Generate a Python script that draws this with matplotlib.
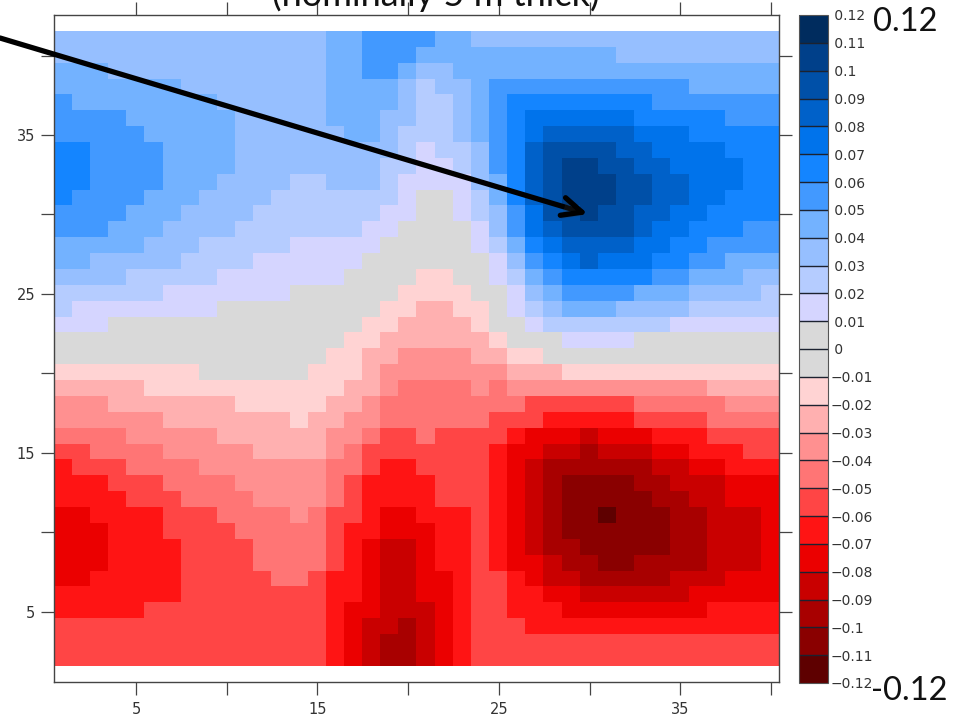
import numpy as np
import matplotlib
matplotlib.use("Agg")
import matplotlib.pyplot as plt
import matplotlib.patheffects as pe
from matplotlib.colors import ListedColormap, BoundaryNorm

W, H = 961, 717

# Colour band per level, from most negative band up to most positive band
band_colors = ["#5E0000", "#8A0000", "#A80000", "#C90000", "#EB0000", "#FF1414",
               "#FF4545", "#FF7575", "#FF9090", "#FFB0B0", "#FFD3D3", "#D9D9D9",
               "#D9D9D9", "#D5D5FF", "#B5CCFF", "#96BFFF", "#73B2FF", "#4299FF",
               "#1485FF", "#0073EB", "#0061C9", "#0050A8", "#00408A", "#002C5E"]
levels = np.round(np.arange(-12, 13) * 0.01, 2)
level_labels = ["-0.12", "-0.11", "-0.1", "-0.09", "-0.08", "-0.07", "-0.06", "-0.05", "-0.04",
                "-0.03", "-0.02", "-0.01", "0", "0.01", "0.02", "0.03", "0.04", "0.05", "0.06",
                "0.07", "0.08", "0.09", "0.1", "0.11", "0.12"]
x_ticks = [5, 10, 15, 20, 25, 30, 35, 40]
y_ticks = [5, 10, 15, 20, 25, 30, 35, 40]
tick_labels = {5: "5", 15: "15", 25: "25", 35: "35"}

# Band number per cell, top row first, as (band, repeat) runs.
# Band n>0 covers 0.01n..0.01(n+1), n<0 the mirror, 0 is the grey band.
rows = [
 [(3,15),(4,2),(5,4),(4,2),(3,17)],
 [(3,15),(4,2),(5,3),(4,11),(3,9)],
 [(4,3),(3,12),(4,2),(5,2),(4,1),(3,2),(4,18)],
 [(4,7),(3,8),(4,4),(3,1),(2,1),(3,2),(4,1),(5,11),(4,5)],
 [(5,1),(4,8),(3,6),(4,4),(3,1),(2,2),(3,1),(4,1),(5,1),(6,8),(5,7)],
 [(5,4),(4,6),(3,5),(4,3),(3,2),(2,2),(3,1),(4,1),(5,1),(6,1),(7,6),(6,5),(5,3)],
 [(5,5),(4,5),(3,6),(4,2),(3,1),(2,3),(3,1),(4,1),(5,1),(6,1),(7,1),(8,5),(7,3),(6,5)],
 [(6,2),(5,4),(4,4),(3,9),(2,1),(1,1),(2,2),(3,1),(5,1),(6,1),(8,1),(9,4),(8,2),(7,4),(6,3)],
 [(6,2),(5,4),(4,4),(3,8),(2,2),(1,2),(2,1),(3,1),(5,1),(6,1),(8,1),(9,1),(10,2),(9,2),(8,2),(7,4),(6,2)],
 [(6,2),(5,4),(4,3),(3,4),(2,2),(3,3),(2,1),(1,4),(3,1),(4,1),(6,1),(8,1),(9,1),(10,3),(9,2),(8,2),(7,3),(6,2)],
 [(6,1),(5,4),(4,3),(3,4),(2,7),(1,1),(0,2),(1,1),(2,1),(4,1),(6,1),(8,1),(9,1),(10,3),(9,2),(8,2),(7,2),(6,3)],
 [(5,4),(4,3),(3,4),(2,7),(1,2),(0,2),(1,1),(2,1),(3,1),(5,1),(7,1),(9,2),(10,1),(9,2),(8,2),(7,2),(6,4)],
 [(5,3),(4,3),(3,4),(2,7),(1,2),(0,4),(1,1),(3,1),(5,1),(7,1),(8,1),(9,4),(8,1),(7,2),(6,3),(5,2)],
 [(4,5),(3,3),(2,5),(1,5),(0,5),(1,1),(2,1),(4,1),(6,1),(7,1),(8,4),(7,2),(6,2),(5,4)],
 [(4,2),(3,5),(2,4),(1,6),(0,7),(1,1),(3,1),(5,1),(6,1),(7,1),(8,1),(7,3),(6,2),(5,2),(4,3)],
 [(3,4),(2,5),(1,7),(0,4),(-1,2),(0,2),(1,1),(2,1),(4,1),(5,1),(6,5),(5,2),(4,3),(3,2)],
 [(2,6),(1,7),(0,6),(-1,4),(0,2),(1,1),(3,1),(4,1),(5,4),(4,3),(3,4),(2,1)],
 [(2,1),(1,8),(0,9),(-1,2),(-2,2),(-1,2),(0,1),(1,1),(2,1),(3,1),(4,3),(3,4),(2,5)],
 [(1,3),(0,14),(-1,2),(-2,4),(-1,1),(0,2),(1,1),(2,7),(1,6)],
 [(0,16),(-1,2),(-2,6),(-1,1),(0,3),(1,4),(0,8)],
 [(0,15),(-1,2),(-2,2),(-3,4),(-2,2),(-1,2),(0,13)],
 [(-1,8),(0,6),(-1,3),(-2,1),(-3,7),(-2,3),(-1,12)],
 [(-2,5),(-1,11),(-2,2),(-3,1),(-4,4),(-3,1),(-4,1),(-3,11),(-2,4)],
 [(-3,3),(-2,7),(-1,5),(-2,2),(-3,1),(-4,8),(-5,6),(-4,5),(-3,3)],
 [(-3,6),(-2,7),(-1,1),(-2,2),(-3,2),(-4,6),(-5,3),(-6,5),(-5,4),(-4,4)],
 [(-4,4),(-3,5),(-2,6),(-3,2),(-4,1),(-5,2),(-4,1),(-5,4),(-6,1),(-7,3),(-8,1),(-7,3),(-6,3),(-5,4)],
 [(-5,2),(-4,4),(-3,5),(-2,4),(-3,1),(-4,1),(-5,7),(-6,1),(-7,2),(-8,2),(-9,1),(-8,3),(-7,2),(-6,3),(-5,2)],
 [(-6,1),(-5,3),(-4,4),(-3,7),(-4,2),(-5,1),(-6,2),(-5,4),(-6,1),(-7,1),(-8,1),(-9,6),(-8,2),(-7,2),(-6,3)],
 [(-6,3),(-5,3),(-4,4),(-3,5),(-4,1),(-5,1),(-6,4),(-5,3),(-6,1),(-7,1),(-8,1),(-9,1),(-10,4),(-9,2),(-8,3),(-7,3)],
 [(-6,4),(-5,3),(-4,4),(-3,4),(-4,1),(-5,1),(-6,4),(-5,3),(-6,1),(-7,1),(-8,1),(-9,1),(-10,5),(-9,2),(-8,2),(-7,3)],
 [(-7,2),(-6,4),(-5,3),(-4,4),(-3,1),(-4,1),(-5,2),(-6,1),(-7,2),(-6,3),(-5,1),(-6,1),(-7,1),(-8,1),(-9,1),(-10,2),(-11,1),(-10,3),(-9,2),(-8,3),(-7,1)],
 [(-7,3),(-6,3),(-5,4),(-4,5),(-5,1),(-6,2),(-7,3),(-6,2),(-5,1),(-6,1),(-7,1),(-8,1),(-9,1),(-10,6),(-9,2),(-8,3),(-7,1)],
 [(-7,3),(-6,4),(-5,4),(-4,4),(-5,1),(-6,1),(-7,1),(-8,2),(-7,1),(-6,2),(-5,1),(-6,1),(-7,1),(-8,1),(-9,2),(-10,5),(-9,2),(-8,3),(-7,1)],
 [(-7,3),(-6,4),(-5,4),(-4,4),(-5,1),(-6,1),(-7,1),(-8,2),(-7,1),(-6,2),(-5,1),(-6,1),(-7,2),(-8,1),(-9,2),(-10,2),(-9,4),(-8,3),(-7,1)],
 [(-7,2),(-6,5),(-5,5),(-4,2),(-5,1),(-6,2),(-7,1),(-8,2),(-7,2),(-6,1),(-5,2),(-6,1),(-7,1),(-8,2),(-9,5),(-8,3),(-7,3)],
 [(-6,7),(-5,8),(-6,2),(-7,1),(-8,2),(-7,2),(-6,1),(-5,2),(-6,2),(-7,2),(-8,6),(-7,5)],
 [(-6,5),(-5,10),(-6,1),(-7,2),(-8,3),(-7,1),(-6,1),(-5,2),(-6,3),(-7,8),(-6,4)],
 [(-5,15),(-6,1),(-7,1),(-8,2),(-9,1),(-8,1),(-7,1),(-6,1),(-5,3),(-6,14)],
 [(-5,15),(-6,1),(-7,1),(-8,1),(-9,2),(-8,1),(-7,1),(-6,1),(-5,17)],
 [(-5,15),(-6,1),(-7,1),(-8,1),(-9,2),(-8,1),(-7,1),(-6,1),(-5,17)],
]

grid = np.array([[b for b, n in row for _ in range(n)] for row in rows], dtype=float)
values = np.sign(grid) * (np.abs(grid) * 0.01 + 0.005)
values = values[::-1]  # lowest row first


def px_axes(l, t, r, b):
    return fig.add_axes([l / W, 1 - b / H, (r - l) / W, (b - t) / H])


fig = plt.figure(figsize=(W / 100, H / 100), dpi=100, facecolor="white")

cmap = ListedColormap(band_colors)
norm = BoundaryNorm(levels, cmap.N)

ax = px_axes(53.7, 15, 779.3, 682)
x_edges = np.arange(0, 41) + 0.46
y_edges = np.linspace(1.6, 41.55, 41)
mesh = ax.pcolormesh(x_edges, y_edges, values, cmap=cmap, norm=norm, shading="flat",
                     edgecolors="face", linewidth=0.0, antialiased=False)
ax.set_xlim(0.46, 40.46)
ax.set_ylim(0.58, 42.55)
ax.set_xticks(x_ticks)
ax.set_yticks(y_ticks)
ax.set_xticklabels([tick_labels.get(t, "") for t in x_ticks])
ax.set_yticklabels([tick_labels.get(t, "") for t in y_ticks])
ax.tick_params(axis="both", which="major", direction="out", length=9.2, width=0.9,
               color="#444444", labelcolor="#333333", labelsize=10.5,
               top=True, right=True, pad=4)
ax.tick_params(axis="x", pad=5)
for s in ax.spines.values():
    s.set_color("#444444")
    s.set_linewidth(1.0)

cax = px_axes(799, 15, 828, 683)
cbar = fig.colorbar(mesh, cax=cax, ticks=levels, drawedges=True, spacing="proportional")
cbar.dividers.set_color("#1c2230")
cbar.dividers.set_linewidth(1.0)
cbar.outline.set_edgecolor("#555555")
cbar.outline.set_linewidth(0.8)
cax.minorticks_off()
cax.set_yticks(levels)
cax.set_yticklabels([(" " + s) if not s.startswith("-") else "\u2212" + s[1:] for s in level_labels])
cax.tick_params(axis="y", length=0, pad=1.5, labelsize=10, labelcolor="#333333")

big = ["Lato", "Open Sans"]
fig.text(435.5 / W, 1 - 6 / H, "(nominally 5 m thick)", family=big, fontsize=26,
         ha="center", va="baseline", color="#111111")
fig.text(873 / W, 1 - 31 / H, "0.12", family=big, fontsize=23.5, ha="left",
         va="baseline", color="#111111")
fig.text(871 / W, 1 - 700 / H, "-0.12", family=big, fontsize=23.5, ha="left",
         va="baseline", color="#111111")

ann = ax.annotate("", xy=(588, H - 214), xytext=(0, H - 38),
                  xycoords="figure pixels", textcoords="figure pixels",
                  annotation_clip=False,
                  arrowprops=dict(arrowstyle="->,head_length=0.65,head_width=0.3",
                                  mutation_scale=22, lw=3.8, color="black",
                                  shrinkA=0, shrinkB=0, capstyle="round", joinstyle="round"))
ann.arrow_patch.set_path_effects([
    pe.SimplePatchShadow(offset=(0.5, -2.5), shadow_rgbFace="#333333", alpha=0.25),
    pe.Normal()])
ann.arrow_patch.set_zorder(10)

fig.savefig("out.png", dpi=100)
